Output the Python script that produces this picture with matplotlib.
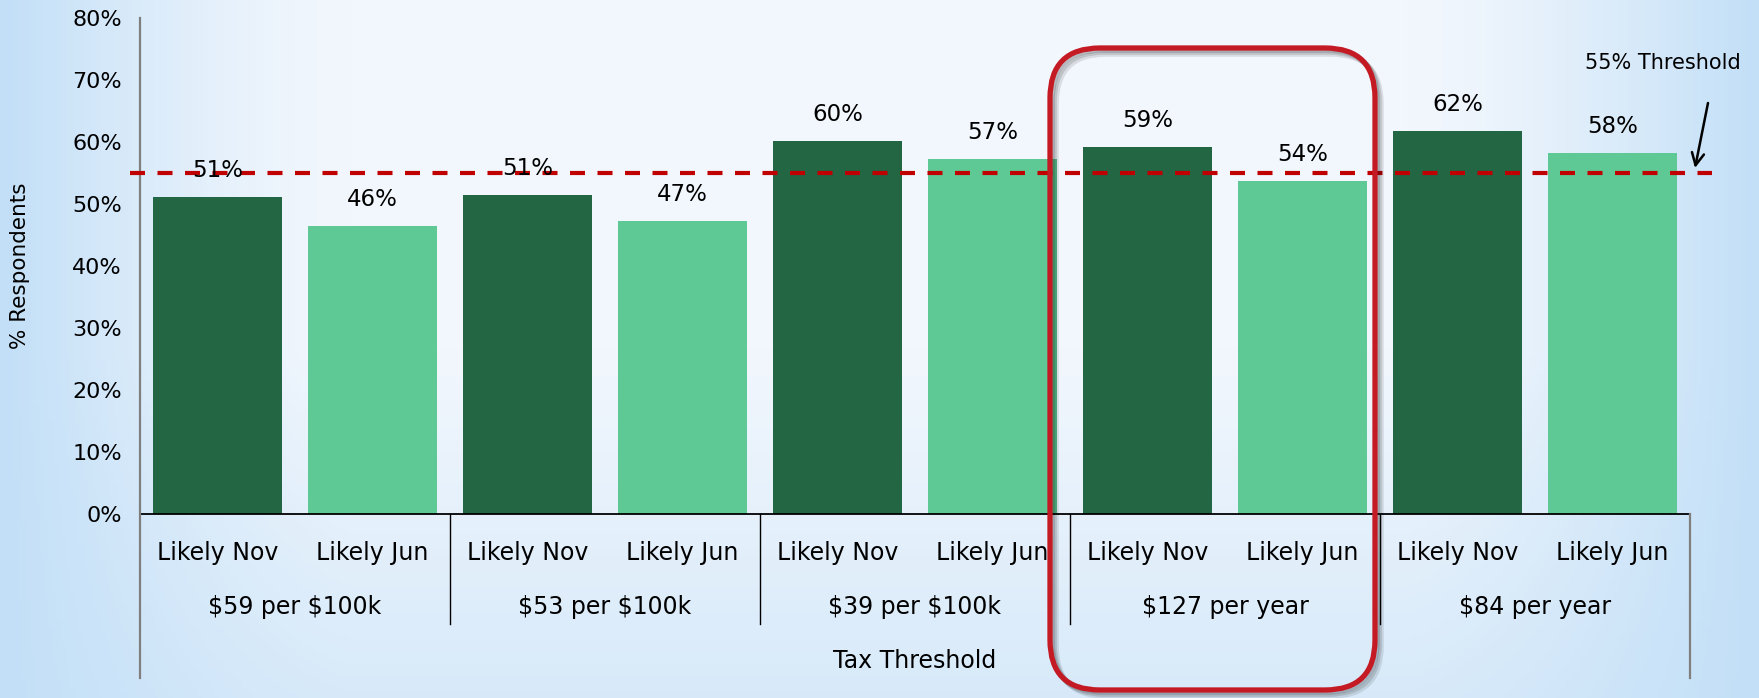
import numpy as np
import matplotlib
matplotlib.use("Agg")
import matplotlib.pyplot as plt
from matplotlib.patches import FancyBboxPatch
from matplotlib.transforms import IdentityTransform

plt.rcParams["text.parse_math"] = False

# ---- data ----
bar_labels = ["Likely Nov", "Likely Jun"] * 5
groups = ["$59 per $100k", "$53 per $100k", "$39 per $100k", "$127 per year", "$84 per year"]
values = [51.1, 46.4, 51.4, 47.3, 60.1, 57.3, 59.2, 53.7, 61.8, 58.2]
threshold = 55
yticks = [0, 10, 20, 30, 40, 50, 60, 70, 80]

dark = "#226644"
light = "#5ec994"
colors = [dark, light] * 5

W, H = 1759, 698
fig = plt.figure(figsize=(W / 100, H / 100), dpi=100)

# background gradient
bg = fig.add_axes([0, 0, 1, 1], zorder=-10)
xs = np.linspace(0, 1, 400)
ys = np.linspace(0, 1, 200)
X, Y = np.meshgrid(xs, ys)
edge = np.clip(1 - np.minimum(X, 1 - X) / 0.2, 0, 1) ** 1.4
bottom = np.clip((Y - 0.5) / 0.5, 0, 1) * 0.55
t = np.clip(edge + bottom * (1 - edge), 0, 1)
c_in = np.array([242, 247, 253]) / 255
c_out = np.array([194, 223, 247]) / 255
img = c_in[None, None, :] * (1 - t[..., None]) + c_out[None, None, :] * t[..., None]
bg.imshow(img, aspect="auto", extent=[0, 1, 0, 1], origin="upper")
bg.axis("off")

ax = fig.add_axes([140 / W, (H - 514) / H, 1550 / W, 496 / H])
ax.patch.set_alpha(0)
x = np.arange(len(values))
ax.bar(x, values, width=0.83, color=colors, zorder=2)
ax.set_xlim(-0.5, len(values) - 0.5)
ax.set_ylim(0, 80)
ax.set_yticks(yticks)
ax.set_yticklabels([f"{v}%" for v in yticks], fontsize=16)
ax.tick_params(axis="y", length=0, pad=13)
ax.set_xticks([])
for s in ["top", "right", "left"]:
    ax.spines[s].set_visible(False)
ax.spines["bottom"].set_color("black")
ax.spines["bottom"].set_linewidth(1.3)

# value labels
for xi, v in zip(x, values):
    ax.annotate(f"{round(v)}%", (xi, v), xytext=(0, 19), textcoords="offset points",
                ha="center", va="center", fontsize=16.5, zorder=5)

# threshold line
ax.axhline(threshold, xmin=-0.0065, xmax=1.0142, color="#c00000", lw=3,
           dashes=(3.6, 3.0), clip_on=False, zorder=4)

# category axis structure
xt = ax.get_xaxis_transform()
for xi, lab in zip(x, bar_labels):
    ax.text(xi, -0.079, lab, transform=xt, ha="center", va="center", fontsize=17)
for gi, g in enumerate(groups):
    ax.text(2 * gi + 0.5, -0.1875, g, transform=xt, ha="center", va="center", fontsize=17)
ax.text(4.5, -0.296, "Tax Threshold", transform=xt, ha="center", va="center", fontsize=17)

ax.plot([-0.5, -0.5], [-0.331, 1.0], transform=xt, color="#7f7f7f", lw=1.6,
        clip_on=False, zorder=3)
ax.plot([9.5, 9.5], [-0.331, 0], transform=xt, color="#7f7f7f", lw=1.6,
        clip_on=False, zorder=3)
for s in [1.5, 3.5, 5.5, 7.5]:
    ax.plot([s, s], [-0.222, 0], transform=xt, color="black", lw=1.0,
            clip_on=False, zorder=3)

# y label
fig.text(20 / W, (H - 266) / H, "% Respondents", rotation=90, ha="center",
         va="center", fontsize=15.5)

# threshold annotation
ax.annotate("", xy=(1695, H - 168), xycoords="figure pixels",
            xytext=(1708, H - 103), textcoords="figure pixels",
            arrowprops=dict(arrowstyle="->", color="black", lw=1.8,
                            mutation_scale=22, shrinkA=0, shrinkB=0))
fig.text(1663 / W, (H - 63) / H, "55% Threshold", ha="center", va="center",
         fontsize=15)

# highlight rounded rectangle with soft shadow
for off, a in [(6, 0.10), (4, 0.12), (2, 0.15)]:
    sh = FancyBboxPatch((1050 + off, 8 - off), 325, 642,
                        boxstyle="round,pad=0,rounding_size=50",
                        transform=IdentityTransform(), fill=False,
                        edgecolor="black", lw=4, alpha=a, zorder=8)
    fig.add_artist(sh)
box = FancyBboxPatch((1050, 8), 325, 642, boxstyle="round,pad=0,rounding_size=50",
                     transform=IdentityTransform(), fill=False,
                     edgecolor="#c41a24", lw=3.8, zorder=9)
fig.add_artist(box)

fig.savefig("out.png", dpi=100)
